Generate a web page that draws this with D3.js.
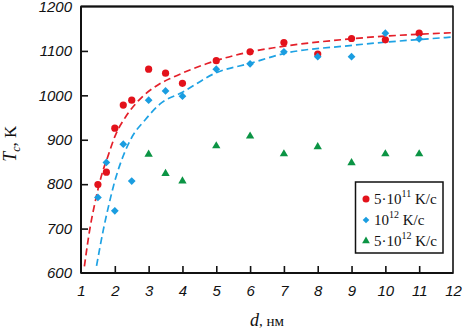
<!DOCTYPE html>
<html>
<head>
<meta charset="utf-8">
<script src="https://cdn.jsdelivr.net/npm/d3@7"></script>
<style>
  html, body { margin: 0; padding: 0; background: #fff; }
  svg { display: block; }
</style>
</head>
<body>
<svg id="chart" width="463" height="334"></svg>
<script>
// Critical temperature T_c versus particle size d for three cooling rates
const xTicks = [1, 2, 3, 4, 5, 6, 7, 8, 9, 10, 11, 12];
const yTicks = [600, 700, 800, 900, 1000, 1100, 1200];

// 5·10^11 K/c
const dRed = [1.5, 1.75, 2, 2.25, 2.5, 3, 3.5, 4, 5, 6, 7, 8, 9, 10, 11];
const tRed = [799, 827, 926, 978, 989, 1059, 1050, 1027, 1078, 1098, 1119, 1093, 1128, 1125, 1140];

// 10^12 K/c
const dBlue = [1.5, 1.75, 2, 2.25, 2.5, 3, 3.5, 4, 5, 6, 7, 8, 9, 10, 11];
const tBlue = [770, 849, 740, 890, 807, 989, 1010, 998, 1059, 1071, 1098, 1087, 1087, 1140, 1127];

// 5·10^12 K/c
const dGreen = [3, 3.5, 4, 5, 6, 7, 8, 9, 10, 11];
const tGreen = [867, 824, 807, 886, 908, 868, 884, 848, 868, 868];

// Fitted trend lines (dashed)
const fitRedD = [1.10, 1.27, 1.41, 1.59, 1.81, 2.0, 2.35, 2.7, 3.33, 3.73, 4.71, 6.0, 6.78, 8.95, 11.95];
const fitRedT = [615, 703, 757, 815, 866, 907, 955, 988, 1026, 1041, 1071, 1098, 1108, 1127, 1141];
const fitBlueD = [1.46, 1.66, 1.81, 2.0, 2.25, 2.5, 2.9, 3.33, 4.0, 5.0, 6.0, 7.0, 8.95, 11.95];
const fitBlueT = [616, 697, 749, 807, 864, 905, 945, 980, 1007, 1051, 1072, 1094, 1112, 1131];

const RED = "#e3121b", BLUE = "#1a9de0", GREEN = "#0b9444";

const svg = d3.select("#chart");
const L = 81, R = 453, T = 6.5, B = 273;
const x = d3.scaleLinear().domain([1, 12]).range([L, R]);
const y = d3.scaleLinear().domain([600, 1200]).range([B, T]);

// dashed fit curves
const line = d3.line().x(d => x(d[0])).y(d => y(d[1])).curve(d3.curveMonotoneX);
[[fitRedD, fitRedT, "#e4202a"], [fitBlueD, fitBlueT, "#1ea2e4"]].forEach(([ds, ts, c]) => {
  svg.append("path")
    .attr("d", line(ds.map((d, i) => [d, ts[i]])))
    .attr("fill", "none").attr("stroke", c)
    .attr("stroke-width", 1.7).attr("stroke-dasharray", "7,4");
});

// markers
const g = svg.append("g");
g.selectAll("circle.red").data(dRed.map((d, i) => [d, tRed[i]])).join("circle")
  .attr("cx", d => x(d[0])).attr("cy", d => y(d[1])).attr("r", 3.6).attr("fill", RED);
const diamond = d3.symbol().type(d3.symbolSquare).size(30);
g.selectAll("path.blue").data(dBlue.map((d, i) => [d, tBlue[i]])).join("path")
  .attr("d", diamond)
  .attr("transform", d => `translate(${x(d[0])},${y(d[1])}) rotate(45)`)
  .attr("fill", BLUE);
const tri = d3.symbol().type(d3.symbolTriangle).size(30);
svg.append("g").selectAll("path").data(dGreen.map((d, i) => [d, tGreen[i]])).join("path")
  .attr("d", tri)
  .attr("transform", d => `translate(${x(d[0])},${y(d[1])})`)
  .attr("fill", GREEN);

// frame
svg.append("rect").attr("x", L).attr("y", T).attr("width", R - L).attr("height", B - T)
  .attr("fill", "none").attr("stroke", "#111").attr("stroke-width", 1.6);
svg.append("line").attr("x1", L).attr("x2", R).attr("y1", T).attr("y2", T)
  .attr("stroke", "#111").attr("stroke-width", 2);
svg.append("line").attr("x1", L).attr("x2", L).attr("y1", T).attr("y2", B)
  .attr("stroke", "#111").attr("stroke-width", 2);
svg.append("line").attr("x1", L).attr("x2", R).attr("y1", B).attr("y2", B)
  .attr("stroke", "#111").attr("stroke-width", 2);

// axes with inward ticks
const xAxis = d3.axisBottom(x).tickValues(xTicks).tickSize(-7).tickPadding(12).tickFormat(d3.format("d"));
const gx = svg.append("g").attr("transform", `translate(0,${B})`).call(xAxis);
gx.select(".domain").remove();
gx.selectAll(".tick line").attr("stroke", "#111").attr("stroke-width", 1.6)
  .filter(d => d === 1 || d === 12).remove();
gx.selectAll(".tick text").attr("font-family", "'Liberation Sans', Arial, sans-serif")
  .attr("font-style", "italic").attr("font-size", 15).attr("fill", "#111");

const yAxis = d3.axisLeft(y).tickValues(yTicks).tickSize(-7).tickPadding(9).tickFormat(d3.format("d"));
const gy = svg.append("g").attr("transform", `translate(${L},0)`).call(yAxis);
gy.select(".domain").remove();
gy.selectAll(".tick line").attr("stroke", "#111").attr("stroke-width", 1.6)
  .filter(d => d === 600 || d === 1200).remove();
gy.selectAll(".tick text").attr("font-family", "'Liberation Sans', Arial, sans-serif")
  .attr("font-style", "italic").attr("font-size", 15).attr("fill", "#111");

// axis titles
const serif = "'Liberation Serif', 'Times New Roman', serif";
const xt = svg.append("text").attr("x", (L + R) / 2).attr("y", 326)
  .attr("text-anchor", "middle").attr("font-family", serif).attr("fill", "#111");
xt.append("tspan").attr("font-style", "italic").attr("font-size", 18).text("d");
xt.append("tspan").attr("font-size", 15).text(", нм");

const yt = svg.append("text").attr("transform", `translate(16,${(T + B) / 2 + 4}) rotate(-90)`)
  .attr("text-anchor", "middle").attr("font-family", serif).attr("fill", "#111");
yt.append("tspan").attr("font-style", "italic").attr("font-size", 18).text("T");
yt.append("tspan").attr("font-style", "italic").attr("font-size", 12).attr("dy", 4).text("c");
yt.append("tspan").attr("font-size", 17).attr("dy", -4).text(", K");

// legend
const lg = svg.append("g");
lg.append("rect").attr("x", 355.5).attr("y", 182).attr("width", 87.5).attr("height", 71)
  .attr("fill", "#fff").attr("stroke", "#111").attr("stroke-width", 1.5);
const entries = [
  { mant: "5·10", exp: "11", c: RED, shape: "circle" },
  { mant: "10", exp: "12", c: BLUE, shape: "diamond" },
  { mant: "5·10", exp: "12", c: GREEN, shape: "triangle" }
];
entries.forEach((e, i) => {
  const cy = 199 + i * 21;
  if (e.shape === "circle") {
    lg.append("circle").attr("cx", 366).attr("cy", cy).attr("r", 3.5).attr("fill", e.c);
  } else if (e.shape === "diamond") {
    lg.append("path").attr("d", d3.symbol().type(d3.symbolSquare).size(22)())
      .attr("transform", `translate(366,${cy}) rotate(45)`).attr("fill", e.c);
  } else {
    lg.append("path").attr("d", d3.symbol().type(d3.symbolTriangle).size(26)())
      .attr("transform", `translate(366,${cy})`).attr("fill", e.c);
  }
  const t = lg.append("text").attr("x", 374).attr("y", cy + 5)
    .attr("font-family", serif).attr("font-size", 15).attr("fill", "#111");
  t.append("tspan").text(e.mant);
  t.append("tspan").attr("font-size", 10).attr("dy", -7).text(e.exp);
  t.append("tspan").attr("dy", 7).text(" K/c");
});
</script>
</body>
</html>
